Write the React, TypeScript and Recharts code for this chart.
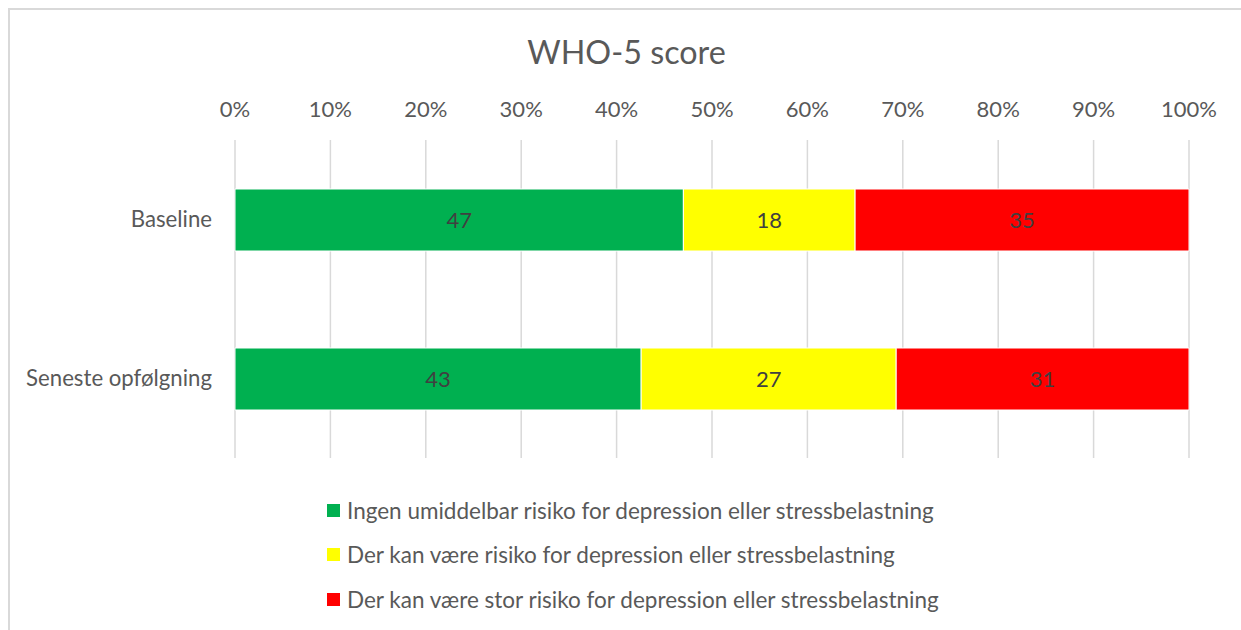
import React from "react";
import { BarChart, Bar, XAxis, YAxis, CartesianGrid, LabelList } from "recharts";

const categories = ["Baseline", "Seneste opfølgning"];
const ingenRisiko = [47, 43];
const risiko = [18, 27];
const storRisiko = [35, 31];
const xTicks = [0, 0.1, 0.2, 0.3, 0.4, 0.5, 0.6, 0.7, 0.8, 0.9, 1];
const seriesNames = [
  "Ingen umiddelbar risiko for depression eller stressbelastning",
  "Der kan være risiko for depression eller stressbelastning",
  "Der kan være stor risiko for depression eller stressbelastning",
];
const colors = ["#00B050", "#FFFF00", "#FF0000"];

const data = categories.map((name, i) => ({
  name,
  a: ingenRisiko[i],
  b: risiko[i],
  c: storRisiko[i],
}));

const FONT = "Lato, 'Open Sans', sans-serif";
const TEXT = "#595959";

export default function App() {
  return (
    <div style={{ position: "fixed", left: 0, top: 0, width: 1241, height: 630, overflow: "hidden", background: "#fff" }}>
      <div style={{ position: "absolute", left: 8, top: 8, width: 1300, height: 700, border: "2px solid #d9d9d9", boxSizing: "border-box" }} />
      <div style={{ position: "absolute", left: 0, top: 30, width: 1241, textAlign: "center", fontFamily: FONT, fontSize: 32.3, color: TEXT, lineHeight: "44px", paddingLeft: 12, boxSizing: "border-box" }}>
        WHO-5 score
      </div>
      <div style={{ position: "absolute", left: 0, top: 0 }}>
        <BarChart
          width={1241}
          height={630}
          data={data}
          layout="vertical"
          stackOffset="expand"
          barSize={62}
          margin={{ top: 110, right: 52, bottom: 172, left: 0 }}
        >
          <CartesianGrid horizontal={false} stroke="#d9d9d9" strokeWidth={1.5} />
          <XAxis
            type="number"
            orientation="top"
            domain={[0, 1]}
            ticks={xTicks}
            tickFormatter={(v) => `${Math.round(v * 100)}%`}
            axisLine={false}
            tickLine={false}
            height={30}
            tickMargin={17}
            tick={{ fill: TEXT, fontSize: 22, fontFamily: FONT }}
            interval={0}
          />
          <YAxis
            type="category"
            dataKey="name"
            width={235}
            axisLine={false}
            tickLine={false}
            tickMargin={17}
            tick={{ fill: TEXT, fontSize: 22.2, fontFamily: FONT }}
          />
          {(["a", "b", "c"] as const).map((k, i) => (
            <Bar key={k} dataKey={k} stackId="s" fill={colors[i]} stroke="#ffffff" strokeWidth={1} name={seriesNames[i]} isAnimationActive={false}>
              <LabelList dataKey={k} position="center" fill="#404040" fontSize={22} fontFamily={FONT} />
            </Bar>
          ))}
        </BarChart>
      </div>
      <div style={{ position: "absolute", left: 327, top: 488, fontFamily: FONT }}>
        {seriesNames.map((n, i) => (
          <div key={n} style={{ display: "flex", alignItems: "center", height: 44.5, color: TEXT, fontSize: 22.5 }}>
            <span style={{ display: "inline-block", width: 13, height: 13, background: colors[i], marginRight: 7 }} />
            <span>{n}</span>
          </div>
        ))}
      </div>
    </div>
  );
}
